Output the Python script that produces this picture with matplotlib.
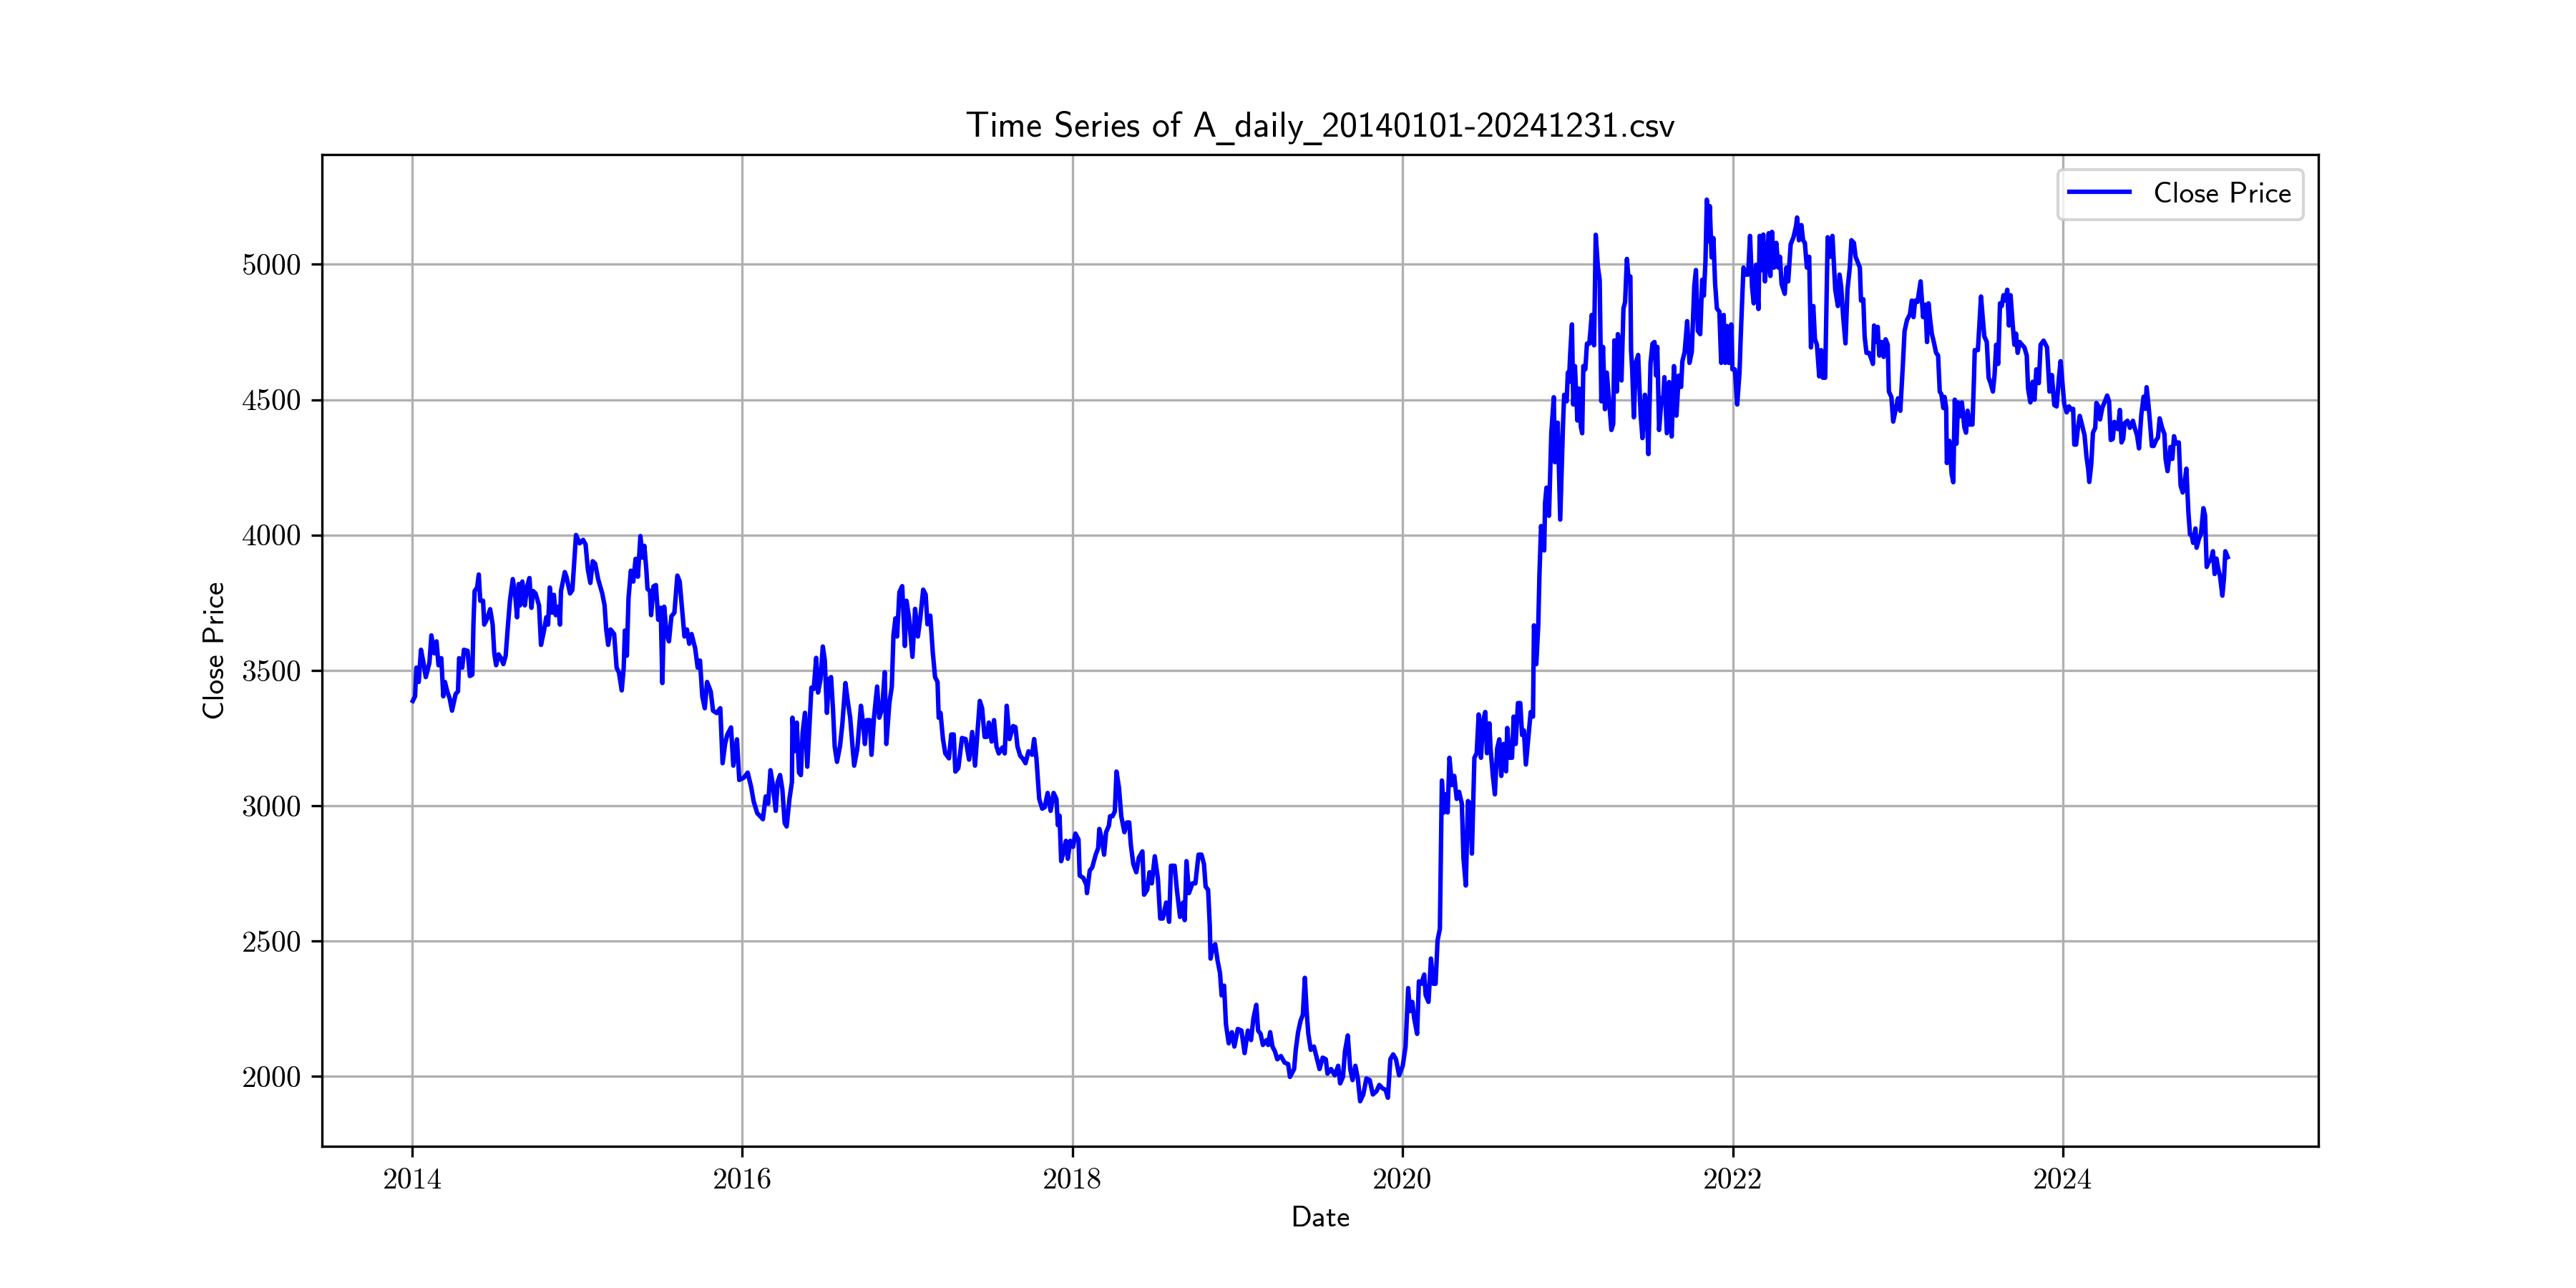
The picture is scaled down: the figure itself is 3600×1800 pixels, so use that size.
import numpy as np
import pandas as pd
import matplotlib
matplotlib.use("Agg")
import matplotlib.pyplot as plt

# closing prices, grouped by segment
# (offset in years from the base year, close price)
base_2014 = 2014
off_2014 = [0.003, 0.017, 0.025, 0.039, 0.053, 0.068, 0.082, 0.104, 0.116, 0.133, 0.147, 0.159, 0.176, 0.188,
            0.198, 0.212, 0.227, 0.241, 0.263, 0.277, 0.284, 0.303, 0.313, 0.335, 0.349, 0.364, 0.371, 0.378,
            0.393, 0.403, 0.412, 0.429, 0.436, 0.451, 0.472, 0.487, 0.497, 0.508, 0.523, 0.537, 0.552, 0.566,
            0.580, 0.592, 0.609, 0.624, 0.635, 0.645, 0.653, 0.667, 0.682, 0.696, 0.710, 0.722, 0.732, 0.747,
            0.768, 0.780, 0.797, 0.812, 0.823, 0.833, 0.848, 0.858, 0.869, 0.884, 0.895, 0.901, 0.924, 0.934,
            0.956, 0.970, 0.992, 1.014, 1.035, 1.050, 1.064, 1.079, 1.093, 1.108, 1.126, 1.151, 1.165, 1.175,
            1.187, 1.201, 1.223, 1.238, 1.252, 1.269, 1.281, 1.288, 1.300, 1.310, 1.324, 1.339, 1.353, 1.367,
            1.382, 1.396, 1.406, 1.418, 1.425, 1.440, 1.447, 1.461, 1.476, 1.490, 1.505, 1.515, 1.526, 1.541,
            1.555, 1.570, 1.588, 1.606, 1.620, 1.635, 1.649, 1.664, 1.678, 1.692, 1.714, 1.729, 1.743, 1.757,
            1.772, 1.786, 1.808, 1.822, 1.844, 1.866, 1.880, 1.895, 1.909, 1.931, 1.945, 1.967, 1.981, 2.010,
            2.032, 2.053, 2.068, 2.090]
close_2014 = [3387, 3404, 3510, 3457, 3576, 3528, 3475, 3528, 3629, 3563, 3607, 3519, 3545, 3404,
              3457, 3422, 3396, 3351, 3413, 3422, 3545, 3510, 3576, 3572, 3479, 3484, 3678, 3793,
              3806, 3854, 3757, 3757, 3669, 3687, 3726, 3669, 3563, 3519, 3559, 3545, 3523, 3554,
              3669, 3757, 3837, 3775, 3696, 3819, 3740, 3828, 3740, 3810, 3841, 3731, 3793, 3784,
              3740, 3594, 3643, 3696, 3669, 3806, 3713, 3779, 3704, 3735, 3669, 3793, 3863, 3846,
              3784, 3797, 4000, 3969, 3982, 3965, 3872, 3823, 3903, 3894, 3837, 3784, 3740, 3651,
              3594, 3651, 3634, 3510, 3492, 3426, 3510, 3647, 3554, 3766, 3868, 3828, 3912, 3846,
              3996, 3916, 3960, 3872, 3801, 3793, 3704, 3810, 3815, 3687, 3731, 3453, 3735, 3634,
              3607, 3700, 3713, 3850, 3828, 3722, 3625, 3651, 3598, 3634, 3581, 3510, 3536, 3404,
              3360, 3457, 3422, 3351, 3342, 3360, 3157, 3228, 3263, 3289, 3148, 3245, 3095, 3104,
              3122, 3069, 3016, 2972]

base_2016 = 2016
off_2016 = [0.105, 0.124, 0.141, 0.156, 0.170, 0.184, 0.202, 0.213, 0.228, 0.242, 0.256, 0.268, 0.285, 0.300,
            0.303, 0.314, 0.329, 0.343, 0.354, 0.365, 0.379, 0.393, 0.408, 0.418, 0.432, 0.447, 0.458, 0.473,
            0.487, 0.499, 0.512, 0.523, 0.537, 0.549, 0.559, 0.573, 0.591, 0.605, 0.624, 0.638, 0.653, 0.667,
            0.677, 0.696, 0.718, 0.732, 0.742, 0.754, 0.772, 0.782, 0.797, 0.816, 0.829, 0.847, 0.862, 0.872,
            0.890, 0.905, 0.915, 0.927, 0.937, 0.951, 0.968, 0.984, 0.994, 1.009, 1.030, 1.046, 1.063, 1.078,
            1.095, 1.110, 1.121, 1.138, 1.153, 1.167, 1.182, 1.189, 1.200, 1.215, 1.229, 1.251, 1.265, 1.280,
            1.290, 1.308, 1.330, 1.352, 1.373, 1.392, 1.409, 1.438, 1.452, 1.467, 1.481, 1.493, 1.510, 1.524,
            1.539, 1.553, 1.575, 1.589, 1.601, 1.618, 1.640, 1.654, 1.666, 1.683, 1.697, 1.715, 1.733, 1.755,
            1.767, 1.781, 1.798, 1.816, 1.831, 1.849, 1.867, 1.885, 1.902, 1.911, 1.921, 1.931, 1.945, 1.960,
            1.971, 1.986, 2.003, 2.017, 2.036, 2.043, 2.065, 2.084]
close_2016 = [2963, 2950, 3034, 3007, 3131, 3078, 2981, 3087, 3113, 3060, 2936, 2923, 3025, 3087,
              3325, 3201, 3307, 3122, 3113, 3272, 3343, 3144, 3316, 3436, 3431, 3546, 3418, 3466,
              3588, 3537, 3343, 3466, 3475, 3352, 3219, 3162, 3219, 3299, 3453, 3387, 3325, 3219,
              3148, 3210, 3369, 3299, 3228, 3316, 3316, 3188, 3325, 3440, 3325, 3360, 3493, 3228,
              3378, 3440, 3630, 3692, 3625, 3789, 3811, 3590, 3757, 3696, 3550, 3727, 3625, 3696,
              3798, 3780, 3670, 3702, 3568, 3475, 3457, 3325, 3343, 3246, 3193, 3175, 3263, 3263,
              3126, 3139, 3250, 3246, 3170, 3272, 3148, 3387, 3360, 3254, 3254, 3307, 3237, 3316,
              3219, 3193, 3215, 3193, 3369, 3246, 3294, 3290, 3219, 3184, 3175, 3157, 3201, 3188,
              3246, 3175, 3025, 2989, 2994, 3047, 2981, 3047, 3025, 2928, 2963, 2795, 2830, 2870,
              2804, 2870, 2848, 2897, 2875, 2742, 2733, 2707]

base_2018 = 2018
off_2018 = [0.087, 0.104, 0.119, 0.140, 0.155, 0.162, 0.177, 0.191, 0.203, 0.220, 0.227, 0.242, 0.256, 0.266,
            0.281, 0.295, 0.314, 0.329, 0.343, 0.353, 0.368, 0.386, 0.401, 0.423, 0.433, 0.452, 0.466, 0.480,
            0.498, 0.517, 0.531, 0.546, 0.567, 0.585, 0.596, 0.618, 0.632, 0.651, 0.669, 0.679, 0.690, 0.705,
            0.726, 0.744, 0.763, 0.781, 0.796, 0.806, 0.821, 0.831, 0.836, 0.849, 0.864, 0.878, 0.893, 0.903,
            0.918, 0.929, 0.946, 0.965, 0.980, 1.001, 1.023, 1.042, 1.062, 1.081, 1.096, 1.113, 1.124, 1.139,
            1.153, 1.175, 1.185, 1.197, 1.211, 1.226, 1.240, 1.262, 1.284, 1.306, 1.317, 1.342, 1.352, 1.366,
            1.381, 1.395, 1.407, 1.418, 1.428, 1.443, 1.462, 1.479, 1.496, 1.515, 1.534, 1.544, 1.566, 1.588,
            1.609, 1.621, 1.638, 1.650, 1.667, 1.682, 1.696, 1.713, 1.728, 1.742, 1.761, 1.780, 1.800, 1.819,
            1.841, 1.858, 1.877, 1.896, 1.910, 1.925, 1.942, 1.959, 1.978, 2.000, 2.017]
close_2018 = [2677, 2760, 2772, 2819, 2843, 2914, 2878, 2819, 2902, 2926, 2961, 2961, 2979, 3126,
              3067, 2961, 2902, 2938, 2938, 2855, 2784, 2754, 2807, 2831, 2671, 2689, 2754, 2713,
              2813, 2730, 2583, 2583, 2642, 2571, 2778, 2778, 2689, 2589, 2642, 2577, 2795, 2677,
              2713, 2713, 2819, 2819, 2784, 2701, 2689, 2559, 2435, 2476, 2488, 2429, 2382, 2299,
              2335, 2193, 2122, 2163, 2110, 2175, 2169, 2086, 2169, 2134, 2216, 2264, 2169, 2157,
              2116, 2134, 2116, 2163, 2110, 2092, 2063, 2075, 2051, 2045, 1998, 2027, 2098, 2163,
              2205, 2228, 2364, 2240, 2157, 2098, 2110, 2069, 2027, 2069, 2063, 2010, 2027, 2004,
              2039, 1974, 1998, 2092, 2151, 2027, 1986, 2039, 1992, 1908, 1933, 1992, 1986, 1933,
              1945, 1968, 1956, 1950, 1921, 2063, 2081, 2063, 2004, 2039, 2110]

base_2020 = 2020
off_2020 = [0.033, 0.043, 0.058, 0.069, 0.087, 0.098, 0.113, 0.130, 0.139, 0.156, 0.171, 0.185, 0.199, 0.211,
            0.225, 0.237, 0.250, 0.260, 0.272, 0.283, 0.298, 0.312, 0.327, 0.341, 0.358, 0.368, 0.382, 0.395,
            0.409, 0.419, 0.434, 0.448, 0.460, 0.474, 0.486, 0.500, 0.510, 0.525, 0.532, 0.546, 0.558, 0.572,
            0.585, 0.597, 0.611, 0.626, 0.633, 0.647, 0.662, 0.672, 0.684, 0.698, 0.712, 0.723, 0.734, 0.746,
            0.760, 0.775, 0.789, 0.795, 0.809, 0.821, 0.828, 0.838, 0.857, 0.862, 0.871, 0.886, 0.900, 0.915,
            0.922, 0.939, 0.954, 0.971, 0.978, 0.993, 1.000, 1.007, 1.014, 1.025, 1.033, 1.043, 1.058, 1.068,
            1.079, 1.087, 1.094, 1.106, 1.116, 1.130, 1.137, 1.145, 1.159, 1.169, 1.182, 1.193, 1.203, 1.213,
            1.225, 1.236, 1.250, 1.264, 1.275, 1.282, 1.297, 1.303, 1.314, 1.325, 1.337, 1.347, 1.358, 1.368,
            1.379, 1.383, 1.390, 1.400, 1.412, 1.426, 1.441, 1.452, 1.467, 1.477, 1.488, 1.501, 1.513, 1.525,
            1.535, 1.542, 1.553, 1.568, 1.578, 1.585, 1.600, 1.614, 1.629, 1.643, 1.658, 1.672, 1.686, 1.694,
            1.708, 1.723, 1.737, 1.751, 1.766, 1.776, 1.788, 1.802, 1.814, 1.824, 1.834, 1.842, 1.853, 1.860,
            1.871, 1.882, 1.892, 1.903, 1.918, 1.929, 1.944, 1.954, 1.964, 1.975, 1.990, 1.997, 2.012, 2.026,
            2.040, 2.048]
close_2020 = [2326, 2241, 2275, 2216, 2157, 2351, 2342, 2376, 2300, 2275, 2435, 2342, 2342, 2503,
              2545, 3093, 2975, 3042, 2975, 3177, 3076, 3110, 3025, 3051, 3008, 2806, 2705, 3017,
              3008, 2823, 3177, 3194, 3337, 3177, 3312, 3346, 3194, 3304, 3211, 3110, 3042, 3211,
              3245, 3110, 3228, 3127, 3287, 3177, 3177, 3329, 3228, 3379, 3379, 3261, 3278, 3152,
              3245, 3346, 3329, 3666, 3523, 3666, 3852, 4033, 3943, 4118, 4175, 4071, 4377, 4509,
              4269, 4415, 4057, 4411, 4518, 4494, 4600, 4565, 4665, 4778, 4482, 4624, 4423, 4541,
              4400, 4376, 4624, 4612, 4707, 4707, 4754, 4813, 4701, 5109, 4991, 4943, 4494, 4695,
              4465, 4600, 4494, 4388, 4411, 4719, 4530, 4742, 4695, 4571, 4837, 4861, 5020, 4943,
              4955, 4683, 4612, 4435, 4636, 4665, 4447, 4358, 4518, 4471, 4299, 4636, 4707, 4713,
              4589, 4695, 4388, 4506, 4506, 4583, 4376, 4565, 4364, 4624, 4441, 4589, 4547, 4642,
              4677, 4790, 4636, 4677, 4920, 4979, 4754, 4742, 4943, 4884, 5014, 5239, 5085, 5215,
              5026, 5097, 4931, 4837, 4825, 4636, 4813, 4636, 4772, 4636, 4778, 4612, 4612, 4482,
              4600, 4742]

base_2022 = 2022
off_2022 = [0.064, 0.078, 0.092, 0.104, 0.116, 0.126, 0.140, 0.155, 0.162, 0.173, 0.184, 0.194, 0.205, 0.217,
            0.227, 0.237, 0.249, 0.263, 0.275, 0.285, 0.295, 0.314, 0.324, 0.335, 0.350, 0.367, 0.382, 0.389,
            0.400, 0.415, 0.425, 0.436, 0.448, 0.462, 0.473, 0.487, 0.497, 0.509, 0.523, 0.535, 0.545, 0.559,
            0.574, 0.588, 0.603, 0.613, 0.620, 0.636, 0.646, 0.656, 0.668, 0.682, 0.694, 0.708, 0.718, 0.733,
            0.743, 0.769, 0.776, 0.790, 0.798, 0.809, 0.824, 0.838, 0.848, 0.855, 0.867, 0.877, 0.887, 0.902,
            0.913, 0.925, 0.938, 0.945, 0.960, 0.971, 0.986, 1.000, 1.014, 1.029, 1.040, 1.055, 1.072, 1.084,
            1.094, 1.104, 1.118, 1.127, 1.137, 1.152, 1.166, 1.176, 1.185, 1.195, 1.205, 1.217, 1.231, 1.243,
            1.253, 1.263, 1.275, 1.282, 1.292, 1.296, 1.311, 1.325, 1.335, 1.344, 1.354, 1.364, 1.376, 1.387,
            1.402, 1.412, 1.422, 1.434, 1.451, 1.460, 1.465, 1.484, 1.491, 1.503, 1.513, 1.523, 1.538, 1.549,
            1.561, 1.575, 1.585, 1.595, 1.607, 1.618, 1.629, 1.639, 1.650, 1.662, 1.672, 1.682, 1.694, 1.705,
            1.715, 1.725, 1.737, 1.751, 1.766, 1.780, 1.788, 1.802, 1.816, 1.827, 1.838, 1.853, 1.864, 1.882,
            1.903, 1.918, 1.932, 1.947, 1.961, 1.975, 1.985]
close_2022 = [4988, 4962, 4962, 5105, 4917, 4856, 4998, 4835, 5105, 4978, 5110, 4937, 5018, 5115,
              4957, 5120, 4988, 5079, 4988, 5028, 4927, 4891, 4988, 4937, 5074, 5100, 5140, 5173,
              5089, 5145, 5089, 5079, 4988, 5028, 4693, 4846, 4724, 4703, 4586, 4683, 4581, 4581,
              5100, 5028, 5105, 4988, 4906, 4846, 4962, 4917, 4805, 4708, 4906, 4988, 5089, 5079,
              5028, 4988, 4866, 4871, 4734, 4673, 4673, 4652, 4632, 4774, 4713, 4769, 4663, 4713,
              4658, 4723, 4703, 4530, 4510, 4419, 4464, 4505, 4459, 4622, 4754, 4795, 4815, 4866,
              4805, 4866, 4861, 4896, 4937, 4805, 4851, 4713, 4856, 4795, 4744, 4713, 4673, 4663,
              4530, 4520, 4469, 4510, 4469, 4266, 4348, 4226, 4195, 4500, 4337, 4490, 4439, 4490,
              4398, 4378, 4459, 4408, 4408, 4571, 4683, 4683, 4754, 4881, 4805, 4734, 4713, 4581,
              4561, 4530, 4591, 4703, 4632, 4856, 4846, 4886, 4866, 4906, 4774, 4886, 4785, 4703,
              4744, 4673, 4713, 4703, 4693, 4663, 4541, 4490, 4566, 4500, 4612, 4561, 4703, 4718,
              4693, 4530, 4591, 4480, 4475, 4581, 4642]

base_2024 = 2024
off_2024 = [0.007, 0.022, 0.036, 0.051, 0.061, 0.068, 0.079, 0.090, 0.101, 0.116, 0.130, 0.142, 0.152, 0.159,
            0.171, 0.181, 0.195, 0.202, 0.214, 0.224, 0.238, 0.253, 0.267, 0.279, 0.289, 0.301, 0.311, 0.325,
            0.332, 0.344, 0.354, 0.364, 0.373, 0.390, 0.405, 0.423, 0.434, 0.448, 0.460, 0.474, 0.488, 0.499,
            0.506, 0.517, 0.527, 0.538, 0.549, 0.564, 0.575, 0.585, 0.600, 0.614, 0.621, 0.633, 0.650, 0.662,
            0.672, 0.682, 0.701, 0.712, 0.725, 0.737, 0.747, 0.759, 0.769, 0.780, 0.788, 0.802, 0.809, 0.824,
            0.835, 0.850, 0.860, 0.870, 0.882, 0.896, 0.908, 0.918, 0.929, 0.939, 0.951, 0.965, 0.975, 0.983,
            0.997]
close_2024 = [4484, 4453, 4475, 4462, 4466, 4334, 4334, 4396, 4440, 4404, 4369, 4289, 4245, 4196,
              4263, 4378, 4396, 4488, 4475, 4427, 4471, 4493, 4515, 4493, 4351, 4355, 4418, 4396,
              4391, 4462, 4342, 4355, 4413, 4422, 4396, 4422, 4396, 4369, 4320, 4444, 4511, 4466,
              4546, 4484, 4413, 4329, 4329, 4351, 4360, 4431, 4396, 4373, 4281, 4236, 4325, 4281,
              4365, 4338, 4342, 4183, 4157, 4201, 4245, 4086, 4002, 3997, 3971, 4024, 3953, 3988,
              4002, 4099, 4073, 3882, 3900, 3909, 3940, 3856, 3913, 3878, 3847, 3776, 3842, 3940,
              3918]

bases = [base_2014, base_2016, base_2018, base_2020, base_2022, base_2024]
offsets = [off_2014, off_2016, off_2018, off_2020, off_2022, off_2024]
closes = [close_2014, close_2016, close_2018, close_2020, close_2022, close_2024]

years = np.concatenate([b + np.array(o) for b, o in zip(bases, offsets)])
close = np.concatenate([np.array(c, dtype=float) for c in closes])
dates = pd.to_datetime("2014-01-01") + pd.to_timedelta((years - 2014) * 365.25, unit="D")

plt.rcParams['font.family'] = ['cmss10', 'DejaVu Sans']
plt.rcParams['axes.formatter.use_mathtext'] = True

fig = plt.figure(figsize=(12, 6))
ax = fig.add_subplot(111)
ax.plot(dates, close, color='blue', label='Close Price')
# cmss10 has no underscore glyph, the low lines go through mathtext
ax.set_title(r'Time Series of A$\_$daily$\_$20140101-20241231.csv')
ax.set_xlabel('Date')
ax.set_ylabel('Close Price')
ax.legend(loc='upper right')
ax.grid(True)
ax.tick_params(labelfontfamily='cmr10')
fig.savefig('out.png', dpi=300)
